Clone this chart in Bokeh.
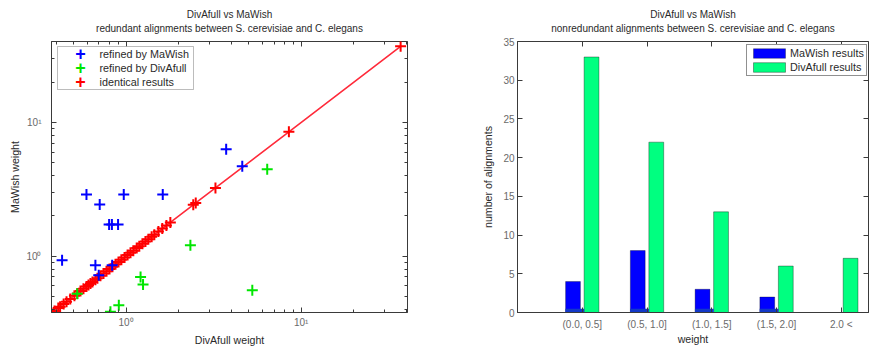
from bokeh.plotting import figure
from bokeh.layouts import row
from bokeh.models import (Title, LogAxis, LinearAxis, FixedTicker, SingleIntervalTicker,
                          CustomJSTickFormatter, BoxAnnotation, Label, Legend, LegendItem,
                          ColumnDataSource)
from bokeh.transform import dodge
from bokeh.embed import file_html
from bokeh.resources import INLINE

# ---------------- data: left panel (redundant alignments) ----------------
title_main = "DivAfull vs MaWish"
title_left = "redundant alignments between S. cerevisiae and C. elegans"
title_right = "nonredundant alignments between S. cerevisiae and C. elegans"
series_names = ["refined by MaWish", "refined by DivAfull", "identical results"]

mawish_refined_divafull = [3.73, 4.61, 0.594, 0.707, 0.97, 1.62, 0.80, 0.83, 0.90, 0.431, 0.668, 0.698, 0.833]
mawish_refined_mawish = [6.29, 4.70, 2.89, 2.44, 2.89, 2.89, 1.73, 1.73, 1.73, 0.934, 0.857, 0.722, 0.857]

divafull_refined_divafull = [6.40, 2.33, 1.21, 1.25, 5.26, 0.526, 0.909, 0.814]
divafull_refined_mawish = [4.47, 1.21, 0.70, 0.614, 0.556, 0.525, 0.430, 0.385]

identical_divafull = [0.375, 0.39, 0.41, 0.42, 0.44, 0.457, 0.48, 0.507, 0.527, 0.549, 0.571,
                      0.594, 0.61, 0.626, 0.643, 0.668, 0.686, 0.714, 0.743, 0.773, 0.804,
                      0.836, 0.87, 0.905, 0.94, 0.98, 1.02, 1.06, 1.10, 1.15, 1.19, 1.24,
                      1.29, 1.34, 1.40, 1.45, 1.53, 1.61, 1.70, 1.79, 2.42, 2.50, 3.24,
                      8.51, 37.0]
identical_mawish = [0.375, 0.39, 0.41, 0.42, 0.44, 0.457, 0.48, 0.507, 0.527, 0.549, 0.571,
                    0.594, 0.61, 0.626, 0.643, 0.668, 0.686, 0.714, 0.743, 0.773, 0.804,
                    0.836, 0.87, 0.905, 0.94, 0.98, 1.02, 1.06, 1.10, 1.15, 1.19, 1.24,
                    1.29, 1.34, 1.40, 1.45, 1.53, 1.61, 1.70, 1.79, 2.42, 2.50, 3.24,
                    8.51, 37.0]

log_major_ticks = [1, 10]
log_minor_ticks = [0.4, 0.5, 0.6, 0.7, 0.8, 0.9, 2, 3, 4, 5, 6, 7, 8, 9, 20, 30, 40]

# ---------------- data: right panel (nonredundant alignments) ----------------
weight_bins = ["(0.0, 0.5]", "(0.5, 1.0]", "(1.0, 1.5]", "(1.5, 2.0]", "2.0 <"]
mawish_counts = [4, 8, 3, 2, 0]
divafull_counts = [33, 22, 13, 6, 7]
bar_names = ["MaWish results", "DivAfull results"]

# ---------------- styling ----------------
FONT = "Liberation Sans"
TXT = "#2a2a2a"
TICK = "#6a6a6a"
EDGE = "#3a3a3a"
FS = "10px"
FS_LABEL = "10.6px"
FS_LEG = "10.8px"


def style_axis(ax, minor=True):
    ax.major_tick_in = 5
    ax.major_tick_out = 0
    ax.minor_tick_in = 3 if minor else 0
    ax.minor_tick_out = 0
    ax.axis_line_color = EDGE
    ax.major_tick_line_color = EDGE
    ax.minor_tick_line_color = EDGE
    ax.major_label_text_font = FONT
    ax.major_label_text_font_size = FS
    ax.major_label_text_color = TICK
    ax.axis_label_text_font = FONT
    ax.axis_label_text_font_size = FS_LABEL
    ax.axis_label_text_font_style = "normal"
    ax.axis_label_text_color = TXT


def blank_axis(cls, ticker, minor=True):
    ax = cls(ticker=ticker, formatter=CustomJSTickFormatter(code="return ''"))
    style_axis(ax, minor)
    ax.major_label_text_font_size = "0px"
    ax.major_label_standoff = 0
    ax.axis_line_color = None
    return ax


def add_titles(p, sub):
    p.add_layout(Title(text=sub, align="center", text_font=FONT, text_font_size=FS,
                       text_font_style="normal", text_color=TXT, standoff=16), "above")
    p.add_layout(Title(text=title_main, align="center", text_font=FONT, text_font_size=FS,
                       text_font_style="normal", text_color=TXT, standoff=-14), "above")


sup_js = """
const sup = {"-1": "\u207b\u00b9", "0": "\u2070", "1": "\u00b9", "2": "\u00b2"};
const e = Math.round(Math.log10(tick));
return "10" + sup[String(e)];
"""

# ---------------- left figure ----------------
p1 = figure(width=443, height=348, title=None, x_axis_type="log", y_axis_type="log",
            x_range=(0.375, 40.5), y_range=(0.38, 40.2),
            output_backend="svg", toolbar_location=None,
            min_border_left=51, min_border_right=36, min_border_top=41, min_border_bottom=35)
p1.grid.visible = False
p1.outline_line_color = EDGE
p1.background_fill_color = "white"
p1.border_fill_color = "white"

log_ticker = FixedTicker(ticks=log_major_ticks, minor_ticks=log_minor_ticks)
for ax in (p1.xaxis[0], p1.yaxis[0]):
    ax.ticker = log_ticker
    ax.formatter = CustomJSTickFormatter(code=sup_js)
    style_axis(ax)
p1.xaxis.axis_label = "DivAfull weight"
p1.yaxis.axis_label = "MaWish weight"
p1.xaxis.major_label_standoff = 4
p1.xaxis.axis_label_standoff = 3
p1.yaxis.major_label_standoff = 10
p1.yaxis.axis_label_standoff = 2

p1.add_layout(blank_axis(LogAxis, log_ticker), "right")
p1.add_layout(blank_axis(LogAxis, log_ticker), "above")
add_titles(p1, title_left)

p1.line(identical_divafull, identical_mawish, line_color="#ff2a3a", line_width=1.6)
p1.scatter(identical_divafull, identical_mawish, marker="cross", size=11, line_width=2,
           line_color="#ff0000")
p1.scatter(mawish_refined_divafull, mawish_refined_mawish, marker="cross", size=11,
           line_width=2, line_color="#0000ff")
p1.scatter(divafull_refined_divafull, divafull_refined_mawish, marker="cross", size=11,
           line_width=2, line_color="#00e600")

# manual legend (keeps marker size like the data markers)
legend_colors = ["#0000ff", "#00e600", "#ff0000"]
p1.add_layout(BoxAnnotation(left=6, right=142, top=266, bottom=223,
                            left_units="screen", right_units="screen",
                            top_units="screen", bottom_units="screen",
                            fill_color="white", fill_alpha=1.0,
                            line_color="#222222", line_width=1, level="annotation"))
for i, (name, col) in enumerate(zip(series_names, legend_colors)):
    yy = 259 - 14 * i
    p1.add_layout(Label(x=29, y=yy, x_units="screen", y_units="screen", text="+",
                        text_color=col, text_font=FONT, text_font_size="18px",
                        text_font_style="bold", text_align="center", text_baseline="middle"))
    p1.add_layout(Label(x=48, y=yy, x_units="screen", y_units="screen", text=name,
                        text_color=TXT, text_font=FONT, text_font_size=FS_LEG,
                        text_align="left", text_baseline="middle"))

# ---------------- right figure ----------------
bin_pos = list(range(1, len(weight_bins) + 1))
src = ColumnDataSource(dict(pos=bin_pos, mawish=mawish_counts, divafull=divafull_counts))
strip_pos = [b for b, m in zip(bin_pos, mawish_counts) if m > 0]
strip_src = ColumnDataSource(dict(pos=strip_pos, top=[0.5] * len(strip_pos)))

p2 = figure(width=427, height=348, title=None, x_range=(0, 5.42), y_range=(0, 35),
            output_backend="svg", toolbar_location=None,
            min_border_left=74, min_border_right=2, min_border_top=41, min_border_bottom=35)
p2.grid.visible = False
p2.outline_line_color = EDGE
p2.background_fill_color = "white"
p2.border_fill_color = "white"

xt = FixedTicker(ticks=bin_pos)
yt = SingleIntervalTicker(interval=5, num_minor_ticks=0)
p2.xaxis[0].ticker = xt
p2.xaxis[0].formatter = CustomJSTickFormatter(args=dict(labels=weight_bins),
                                              code="const i = Math.round(tick) - 1; return labels[i] || '';")
p2.yaxis[0].ticker = yt
style_axis(p2.xaxis[0], minor=False)
style_axis(p2.yaxis[0], minor=False)
p2.xaxis.axis_label = "weight"
p2.yaxis.axis_label = "number of alignments"
p2.xaxis.major_label_standoff = 6
p2.xaxis.axis_label_standoff = 0
p2.yaxis.major_label_standoff = 3
p2.yaxis.axis_label_standoff = 6

p2.add_layout(blank_axis(LinearAxis, yt, minor=False), "right")
p2.add_layout(blank_axis(LinearAxis, xt, minor=False), "above")
add_titles(p2, title_right)

r_m = p2.vbar(x=dodge("pos", -0.143, range=p2.x_range), top="mawish", width=0.229,
              source=src, fill_color="#0000ff", line_color="#000000", line_alpha=0.3)
r_d = p2.vbar(x=dodge("pos", 0.143, range=p2.x_range), top="divafull", width=0.229,
              source=src, fill_color="#00ff80", line_color="#000000", line_alpha=0.35)
p2.vbar(x=dodge("pos", -0.115, range=p2.x_range), top="top", width=0.29, source=strip_src,
        fill_color="#1238c8", line_color=None)

leg = Legend(items=[LegendItem(label=bar_names[0], renderers=[r_m]),
                    LegendItem(label=bar_names[1], renderers=[r_d])],
             location=(229, 236), padding=2, spacing=2, margin=0,
             glyph_width=40, glyph_height=12, label_height=12, label_standoff=1,
             label_text_font=FONT, label_text_font_size=FS_LEG, label_text_color=TXT,
             border_line_color="#222222", border_line_width=1,
             background_fill_color="white", background_fill_alpha=1.0)
p2.add_layout(leg)

layout = row(p1, p2, spacing=0)
open("out.html", "w", encoding="utf-8").write(file_html(layout, INLINE))
